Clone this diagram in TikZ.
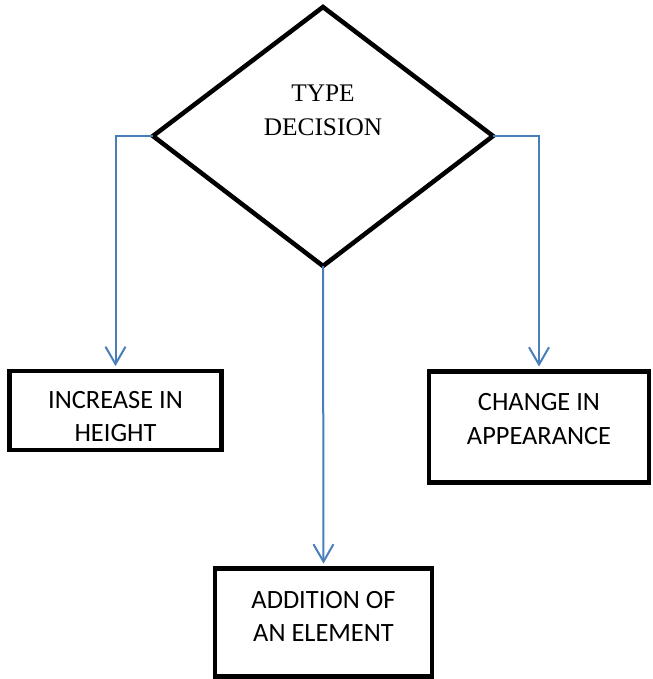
\documentclass[tikz,border=0pt]{standalone}
\usepackage{fontspec}
\setmainfont{Liberation Serif}
\newfontfamily\boxfont{Carlito}
\usetikzlibrary{arrows.meta}
\definecolor{linkblue}{HTML}{4A7EBB}
\begin{document}
\begin{tikzpicture}[x=0.75pt,y=-0.75pt,
  stepbox/.style={draw=black,line width=3.4pt,rectangle,inner sep=0pt},
  boxtext/.style={font=\boxfont\fontsize{19.8pt}{24.8pt}\selectfont,align=center,inner sep=0pt},
  link/.style={draw=linkblue,line width=1.5pt,-{Straight Barb[length=13pt,width=15pt,line width=1.5pt]}}]
\useasboundingbox (0,0) rectangle (653,679);

% decision diamond
\coordinate (dtop) at (323,7);
\coordinate (dleft) at (153,136);
\coordinate (dright) at (493,136);
\coordinate (dbot) at (323,266);
\draw[line width=3.4pt,line join=miter] (dtop) -- (dright) -- (dbot) -- (dleft) -- cycle;
\node[font=\fontsize{19pt}{25.5pt}\selectfont,align=center,inner sep=0pt] (dtext) at (323,110) {TYPE\\DECISION};

% outcome boxes
\node[stepbox,minimum width=212*0.75pt,minimum height=79*0.75pt] (inc) at (115.5,410.5) {};
\node[boxtext] (inctext) at (115.5,416.5) {INCREASE IN\\HEIGHT};

\node[stepbox,minimum width=220*0.75pt,minimum height=111*0.75pt] (chg) at (539,427) {};
\node[boxtext] (chgtext) at (539,419) {CHANGE IN\\APPEARANCE};

\node[stepbox,minimum width=217*0.75pt,minimum height=108*0.75pt] (add) at (323.5,622.5) {};
\node[boxtext] (addtext) at (323.5,616.5) {ADDITION OF\\AN ELEMENT};

% connectors
\coordinate (inctop) at ([yshift=2pt]inc.north);
\coordinate (chgtop) at ([yshift=2pt]chg.north);
\coordinate (addtop) at ([yshift=2pt]add.north);
\draw[link] (dleft) -| (inctop);
\draw[link] (dright) -| (chgtop);
\draw[link] (dbot) -- (addtop);
\end{tikzpicture}
\end{document}
